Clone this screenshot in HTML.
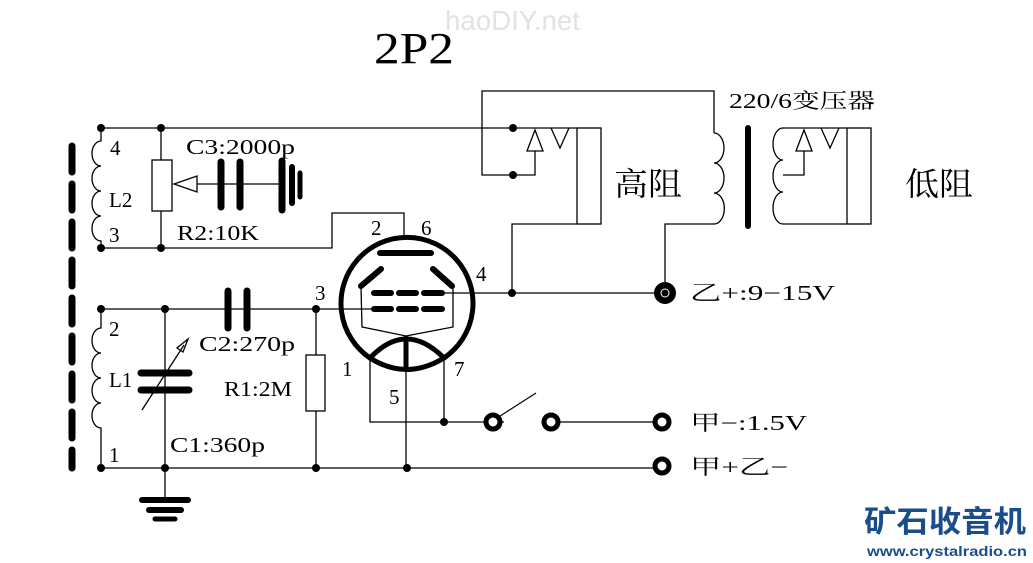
<!DOCTYPE html>
<html><head><meta charset="utf-8"><style>
html,body{margin:0;padding:0;background:#fff;width:1033px;height:563px;overflow:hidden}
svg{display:block}
text{font-family:"Liberation Serif","Noto Serif CJK SC",serif;fill:#000}
</style></head><body>
<svg width="1033" height="563" viewBox="0 0 1033 563" xmlns="http://www.w3.org/2000/svg">
<g fill="none" stroke="#000" stroke-width="1.3">
<line x1="101" y1="128" x2="513" y2="128"/>
<line x1="513" y1="128" x2="577" y2="128"/>
<polyline points="513,175 482,175 482,91 714,91 714,133"/>
<polyline points="513,175 535,175 535,151"/>
<polygon points="535,130 527,151 543,151"/>
<polyline points="551,128 560,148 569,128"/>
<rect x="577" y="128" width="24" height="96"/>
<polyline points="577,224 512,224 512,293"/>
<path d="M714,133 A10,15 0 0 1 714,163 A10,15 0 0 1 714,193 A10,15 0 0 1 714,224 L665,224 L665,293"/>
<path d="M783,128 A10,16 0 0 0 783,160 A10,16 0 0 0 783,192 A10,16 0 0 0 783,224 L847,224"/>
<line x1="783" y1="128" x2="847" y2="128"/>
<polyline points="783,175 804,175 804,151"/>
<polygon points="804,130 796,151 812,151"/>
<polyline points="821,128 830,148 839,128"/>
<rect x="847" y="128" width="24" height="96"/>
<path d="M101,128 L101,141 A9,12.5 0 0 0 101,166 A9,12.5 0 0 0 101,191 A9,12.5 0 0 0 101,216 A9,12.5 0 0 0 101,241 L101,248"/>
<polyline points="101,248 332,248 332,213 404,213 404,237"/>
<line x1="161" y1="128" x2="161" y2="248"/>
<rect x="152" y="160" width="20" height="51" fill="#fff"/>
<polygon points="174,184 197,176 197,192" fill="#fff"/>
<line x1="197" y1="184" x2="282" y2="184"/>
<path d="M101,309 L101,328 A9,12.5 0 0 0 101,353 A9,12.5 0 0 0 101,378 A9,12.5 0 0 0 101,403 A9,12.5 0 0 0 101,428 L101,468"/>
<line x1="101" y1="309" x2="372" y2="309"/>
<line x1="165" y1="309" x2="165" y2="500"/>
<line x1="316" y1="309" x2="316" y2="468"/>
<rect x="306" y="355" width="19" height="56" fill="#fff"/>
<line x1="101" y1="468" x2="662" y2="468"/>
<line x1="142" y1="410" x2="184" y2="345"/>
<polygon points="188,339 177,348 183,352"/>
<line x1="406" y1="370" x2="406" y2="468"/>
<polyline points="370,358 370,422 444,422"/>
<line x1="444" y1="358" x2="444" y2="422"/>
<line x1="444" y1="422" x2="662" y2="422"/>
<line x1="440" y1="293" x2="665" y2="293"/>
<polyline points="361,287 362,327 406,336 453,327 453,287"/>
</g>
<rect x="504" y="418" width="40" height="8" fill="#fff"/>
<g stroke="#000" stroke-linecap="round" fill="none">
<line x1="72" y1="146" x2="72" y2="468" stroke-width="7" stroke-dasharray="26 12"/>
<line x1="221" y1="162" x2="221" y2="207" stroke-width="7"/>
<line x1="240" y1="162" x2="240" y2="207" stroke-width="7"/>
<line x1="282" y1="161" x2="282" y2="210" stroke-width="7"/>
<line x1="292" y1="167" x2="292" y2="203" stroke-width="6"/>
<line x1="300" y1="173" x2="300" y2="197" stroke-width="5"/>
<line x1="228" y1="291" x2="228" y2="328" stroke-width="7"/>
<line x1="247" y1="291" x2="247" y2="328" stroke-width="7"/>
<line x1="141" y1="373" x2="189" y2="373" stroke-width="7"/>
<line x1="141" y1="390" x2="189" y2="390" stroke-width="7"/>
<line x1="142" y1="500" x2="188" y2="500" stroke-width="6"/>
<line x1="149" y1="510" x2="181" y2="510" stroke-width="6"/>
<line x1="155" y1="519" x2="175" y2="519" stroke-width="5"/>
<line x1="748" y1="128" x2="748" y2="226" stroke-width="6"/>
<path d="M370,358 A66,66 0 1 1 444,358" stroke-width="5"/>
<path d="M370,358 Q406,381 444,358" stroke-width="5"/>
<path d="M370,358 Q406,320 444,358" stroke-width="5"/>
<line x1="406" y1="338" x2="406" y2="368" stroke-width="5"/>
<line x1="380" y1="253" x2="431" y2="253" stroke-width="6"/>
<line x1="361" y1="286" x2="381" y2="269" stroke-width="6"/>
<line x1="433" y1="269" x2="452" y2="286" stroke-width="6"/>
<g stroke-width="6">
<line x1="374" y1="293" x2="391" y2="293"/><line x1="399" y1="293" x2="416" y2="293"/><line x1="424" y1="293" x2="442" y2="293"/>
<line x1="374" y1="309" x2="391" y2="309"/><line x1="399" y1="309" x2="416" y2="309"/><line x1="424" y1="309" x2="442" y2="309"/>
</g>
<circle cx="493" cy="422" r="7" stroke-width="5" fill="#fff"/>
<circle cx="551" cy="422" r="7" stroke-width="5" fill="#fff"/>
<circle cx="662" cy="422" r="7" stroke-width="5" fill="#fff"/>
<circle cx="662" cy="466" r="7" stroke-width="5" fill="#fff"/>
</g>
<line x1="497" y1="418" x2="536" y2="393" stroke="#000" stroke-width="1.2"/>
<circle cx="665" cy="293" r="11" fill="#000"/>
<circle cx="665" cy="293" r="4" fill="none" stroke="#fff" stroke-width="1"/>
<g fill="#000">
<circle cx="101" cy="128" r="4"/><circle cx="161" cy="128" r="4"/>
<circle cx="101" cy="248" r="4"/><circle cx="161" cy="248" r="4"/>
<circle cx="513" cy="128" r="4"/><circle cx="513" cy="175" r="4"/>
<circle cx="101" cy="309" r="4"/><circle cx="165" cy="309" r="4"/><circle cx="316" cy="309" r="4"/>
<circle cx="101" cy="468" r="4"/><circle cx="165" cy="468" r="4"/><circle cx="316" cy="468" r="4"/><circle cx="407" cy="468" r="4"/>
<circle cx="512" cy="293" r="4"/><circle cx="444" cy="422" r="4"/>
</g>
<g font-size="21">
<text x="110" y="155">4</text>
<text x="109" y="207">L2</text>
<text x="109" y="242">3</text>
<text x="186" y="154" textLength="109" lengthAdjust="spacingAndGlyphs">C3:2000p</text>
<text x="177" y="240" textLength="82" lengthAdjust="spacingAndGlyphs">R2:10K</text>
<text x="109" y="336">2</text>
<text x="109" y="387">L1</text>
<text x="109" y="462">1</text>
<text x="199" y="351" textLength="96" lengthAdjust="spacingAndGlyphs">C2:270p</text>
<text x="224" y="396" textLength="68" lengthAdjust="spacingAndGlyphs">R1:2M</text>
<text x="170" y="452" textLength="95" lengthAdjust="spacingAndGlyphs">C1:360p</text>
<text x="371" y="235">2</text>
<text x="421" y="235">6</text>
<text x="476" y="281">4</text>
<text x="315" y="300">3</text>
<text x="342" y="376">1</text>
<text x="454" y="376">7</text>
<text x="389" y="404">5</text>
<text x="729" y="108" textLength="146" lengthAdjust="spacingAndGlyphs">220/6变压器</text>
<text x="690" y="300" textLength="145" lengthAdjust="spacingAndGlyphs">乙+:9−15V</text>
<text x="690" y="430" textLength="117" lengthAdjust="spacingAndGlyphs">甲−:1.5V</text>
<text x="690" y="474" textLength="98" lengthAdjust="spacingAndGlyphs">甲+乙−</text>
</g>
<text x="614" y="195" font-size="32" textLength="68" lengthAdjust="spacingAndGlyphs">高阻</text>
<text x="905" y="195" font-size="32" textLength="68" lengthAdjust="spacingAndGlyphs">低阻</text>
<text x="374" y="63" font-size="44" textLength="80" lengthAdjust="spacingAndGlyphs">2P2</text>
<text x="445" y="30" font-size="28" style="fill:#e2e2e2;font-family:'Liberation Sans',sans-serif" textLength="135" lengthAdjust="spacingAndGlyphs">haoDIY.net</text>
<text x="864" y="532" font-size="30" style="fill:#1a4e8a;font-family:'Liberation Sans','Noto Sans CJK SC',sans-serif;font-weight:bold" textLength="162" lengthAdjust="spacingAndGlyphs">矿石收音机</text>
<text x="867" y="556" font-size="14" style="fill:#1a4e8a;font-family:'Liberation Sans',sans-serif;font-weight:bold" textLength="160" lengthAdjust="spacingAndGlyphs">www.crystalradio.cn</text>
</svg>
</body></html>
